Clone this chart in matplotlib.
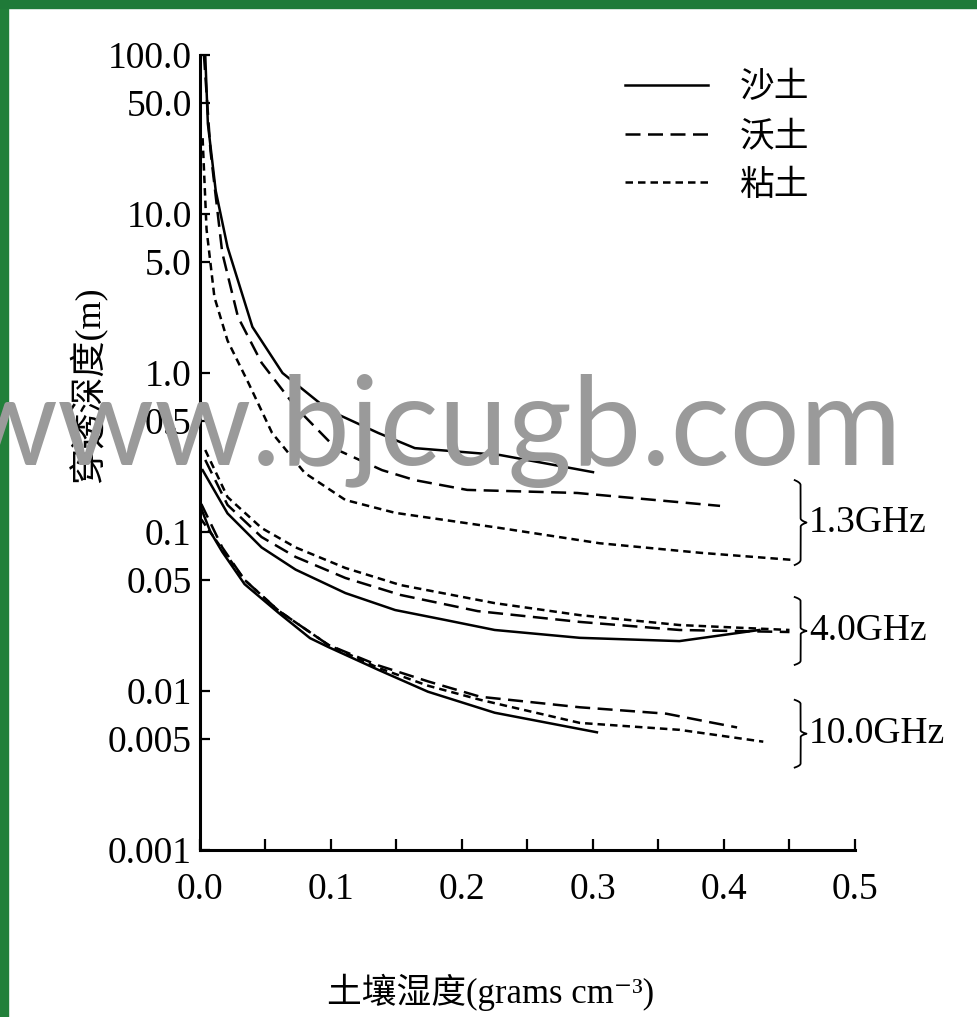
import numpy as np
import matplotlib.pyplot as plt
from matplotlib.patches import Rectangle
from matplotlib.ticker import FixedLocator, FixedFormatter, MultipleLocator

plt.rcParams['font.family'] = ['Liberation Serif', 'Noto Sans CJK SC', 'DejaVu Sans']

# soil moisture (grams cm^-3) vs penetration depth (m)
# 1.3 GHz
sand_13_x = [0.004, 0.006, 0.012, 0.021, 0.040, 0.063, 0.098, 0.136, 0.164, 0.229, 0.300]
sand_13_y = [100, 37, 14, 6.2, 1.95, 1.0, 0.585, 0.42, 0.337, 0.305, 0.238]
loam_13_x = [0.003, 0.008, 0.017, 0.029, 0.047, 0.073, 0.105, 0.139, 0.164, 0.204, 0.288, 0.397]
loam_13_y = [100, 25, 5.7, 2.25, 1.16, 0.61, 0.328, 0.245, 0.212, 0.184, 0.176, 0.146]
clay_13_x = [0.002, 0.005, 0.011, 0.021, 0.037, 0.055, 0.080, 0.111, 0.149, 0.229, 0.305, 0.382, 0.453]
clay_13_y = [30, 8, 3.0, 1.6, 0.865, 0.42, 0.235, 0.159, 0.132, 0.106, 0.085, 0.074, 0.0667]

# 4.0 GHz
sand_40_x = [0.002, 0.021, 0.047, 0.073, 0.111, 0.149, 0.187, 0.225, 0.290, 0.366, 0.427]
sand_40_y = [0.245, 0.131, 0.080, 0.058, 0.0413, 0.0323, 0.028, 0.0242, 0.0216, 0.0206, 0.0242]
loam_40_x = [0.004, 0.021, 0.047, 0.073, 0.111, 0.153, 0.212, 0.290, 0.366, 0.450]
loam_40_y = [0.284, 0.148, 0.093, 0.0697, 0.0514, 0.0402, 0.0318, 0.0272, 0.0242, 0.0235]
clay_40_x = [0.004, 0.021, 0.047, 0.073, 0.111, 0.153, 0.225, 0.290, 0.366, 0.450]
clay_40_y = [0.328, 0.166, 0.106, 0.080, 0.0594, 0.0464, 0.0357, 0.030, 0.026, 0.0242]

# 10.0 GHz
sand_10_x = [0.001, 0.008, 0.017, 0.034, 0.060, 0.084, 0.098, 0.136, 0.174, 0.225, 0.303]
sand_10_y = [0.14, 0.1, 0.075, 0.047, 0.031, 0.0215, 0.0189, 0.0136, 0.0099, 0.0073, 0.0055]
loam_10_x = [0.001, 0.017, 0.034, 0.060, 0.098, 0.136, 0.174, 0.214, 0.290, 0.356, 0.392, 0.410]
loam_10_y = [0.15, 0.08, 0.05, 0.032, 0.0195, 0.0145, 0.0115, 0.0092, 0.0079, 0.0072, 0.0063, 0.0059]
clay_10_x = [0.001, 0.017, 0.034, 0.060, 0.098, 0.136, 0.174, 0.214, 0.290, 0.366, 0.430]
clay_10_y = [0.12, 0.078, 0.05, 0.032, 0.0195, 0.014, 0.0108, 0.0088, 0.0063, 0.0057, 0.0048]

soil_names = ['沙土', '沃土', '粘土']
y_ticks = [100, 50, 10, 5, 1, 0.5, 0.1, 0.05, 0.01, 0.005, 0.001]
y_tick_labels = ['100.0', '50.0', '10.0', '5.0', '1.0', '0.5', '0.1', '0.05', '0.01', '0.005', '0.001']
x_ticks = [0.0, 0.1, 0.2, 0.3, 0.4, 0.5]

freq_labels = ['1.3GHz', '4.0GHz', '10.0GHz']
brace_lo = [0.062, 0.0146, 0.0033]
brace_hi = [0.212, 0.039, 0.0088]


def brace(ax, x, y_lo, y_hi, width):
    # right-facing curly brace between y_lo and y_hi on a log axis
    u = np.linspace(0, 1, 301)
    s = np.minimum(u, 1 - u) * 2
    w = width * (1 - np.clip(1 - s / 0.12, 0, 1) ** 2)
    w = w + width * np.clip((s - 0.9) / 0.1, 0, 1) ** 2
    yy = y_lo * (y_hi / y_lo) ** u
    ax.plot(x + w, yy, color='k', lw=1.3, clip_on=False)


fig = plt.figure(figsize=(9.78, 10.17), dpi=100)

# green slide frame
fig.patches.append(Rectangle((0, 0), 8 / 978, 1, transform=fig.transFigure, color='#22803a', zorder=0))
fig.patches.append(Rectangle((0, 1 - 8 / 1017), 1, 8 / 1017, transform=fig.transFigure, color='#1f7a38', zorder=0))

ax = fig.add_axes([0.2045, 0.1642, 0.6697, 0.7817])

lw = 1.8
solid = dict(color='k', lw=lw, ls='-')
longd = dict(color='k', lw=lw, ls=(0, (6, 3)))
shortd = dict(color='k', lw=lw, ls=(0, (3, 2)))

ax.plot(sand_13_x, sand_13_y, label=soil_names[0], **solid)
ax.plot(loam_13_x, loam_13_y, label=soil_names[1], **longd)
ax.plot(clay_13_x, clay_13_y, label=soil_names[2], **shortd)
ax.plot(sand_40_x, sand_40_y, **solid)
ax.plot(loam_40_x, loam_40_y, **longd)
ax.plot(clay_40_x, clay_40_y, **shortd)
ax.plot(sand_10_x, sand_10_y, **solid)
ax.plot(loam_10_x, loam_10_y, **longd)
ax.plot(clay_10_x, clay_10_y, **shortd)

ax.set_yscale('log')
ax.set_xlim(0, 0.5)
ax.set_ylim(0.001, 100)

ax.yaxis.set_major_locator(FixedLocator(y_ticks))
ax.yaxis.set_major_formatter(FixedFormatter(y_tick_labels))
ax.yaxis.set_minor_locator(FixedLocator([]))
ax.xaxis.set_major_locator(FixedLocator(x_ticks))
ax.xaxis.set_major_formatter(FixedFormatter(['%.1f' % v for v in x_ticks]))
ax.xaxis.set_minor_locator(MultipleLocator(0.05))

ax.spines['top'].set_visible(False)
ax.spines['right'].set_visible(False)
ax.spines['left'].set_linewidth(2.2)
ax.spines['bottom'].set_linewidth(2.2)
ax.tick_params(axis='y', which='major', direction='in', length=7, width=1.6, labelsize=27, pad=6)
ax.tick_params(axis='x', which='both', direction='in', length=8, width=1.6, labelsize=27, pad=16)

ax.set_xlabel('土壤湿度(grams cm⁻³)', fontsize=25)
ax.xaxis.set_label_coords(0.443, -0.155)
ax.set_ylabel('穿透深度(m)', fontsize=26, va='center')
ax.yaxis.set_label_coords(-0.171, 0.585)

for lab, lo, hi in zip(freq_labels, brace_lo, brace_hi):
    brace(ax, 0.454, lo, hi, 0.0045)
    ax.text(0.465, np.sqrt(lo * hi), lab, fontsize=27, ha='left', va='center', clip_on=False)

ax.legend(loc='upper left', bbox_to_anchor=(0.622, 1.0), frameon=False, fontsize=25,
          handlelength=2.4, handletextpad=0.9, labelspacing=0.45, borderpad=0)

# site watermark over the figure
fig.text(-0.04, 0.543, 'www.bjcugb.com', fontsize=89, family='Lato', color='#9a9a9a',
         ha='left', va='baseline', zorder=10)

fig.savefig('out.png', dpi=100)
